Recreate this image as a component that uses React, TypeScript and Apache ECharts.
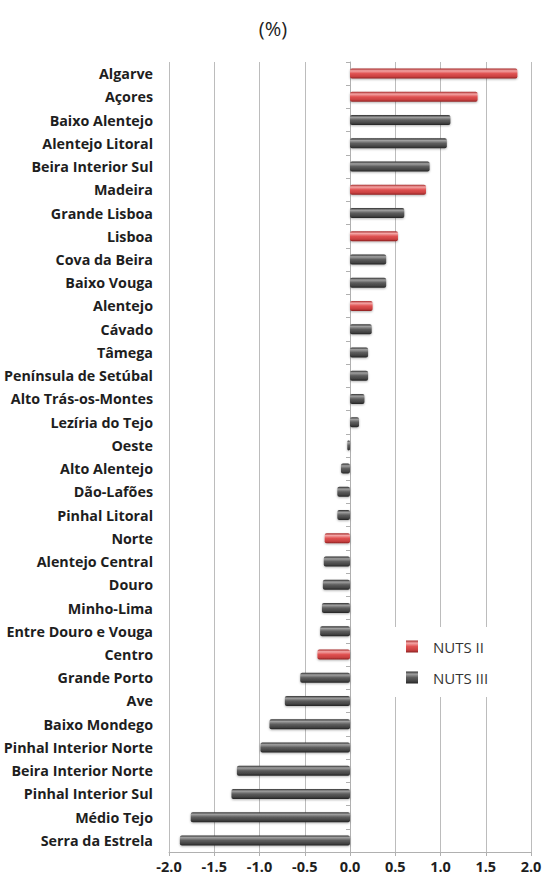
import React, { useEffect, useRef } from "react";
import * as echarts from "echarts";

const regions: string[] = [
  "Algarve", "Açores", "Baixo Alentejo", "Alentejo Litoral", "Beira Interior Sul",
  "Madeira", "Grande Lisboa", "Lisboa", "Cova da Beira", "Baixo Vouga",
  "Alentejo", "Cávado", "Tâmega", "Península de Setúbal", "Alto Trás-os-Montes",
  "Lezíria do Tejo", "Oeste", "Alto Alentejo", "Dão-Lafões", "Pinhal Litoral",
  "Norte", "Alentejo Central", "Douro", "Minho-Lima", "Entre Douro e Vouga",
  "Centro", "Grande Porto", "Ave", "Baixo Mondego", "Pinhal Interior Norte",
  "Beira Interior Norte", "Pinhal Interior Sul", "Médio Tejo", "Serra da Estrela",
];

const values: number[] = [
  1.85, 1.41, 1.11, 1.07, 0.88,
  0.84, 0.60, 0.53, 0.40, 0.40,
  0.25, 0.24, 0.20, 0.20, 0.16,
  0.10, -0.03, -0.10, -0.14, -0.14,
  -0.28, -0.29, -0.30, -0.31, -0.33,
  -0.36, -0.55, -0.72, -0.89, -0.99,
  -1.25, -1.31, -1.76, -1.88,
];

// NUTS level of each region (2 = NUTS II, 3 = NUTS III)
const levels: number[] = [
  2, 2, 3, 3, 3,
  2, 3, 2, 3, 3,
  2, 3, 3, 3, 3,
  3, 3, 3, 3, 3,
  2, 3, 3, 3, 3,
  2, 3, 3, 3, 3,
  3, 3, 3, 3,
];

const seriesNames: string[] = ["NUTS II", "NUTS III"];
const xTicks = { min: -2, max: 2, interval: 0.5 };

const redGrad = new echarts.graphic.LinearGradient(0, 0, 0, 1, [
  { offset: 0, color: "#a82a2a" },
  { offset: 0.22, color: "#f3a5a5" },
  { offset: 0.5, color: "#e05252" },
  { offset: 0.8, color: "#c84040" },
  { offset: 1, color: "#8a1f1f" },
]);
const grayGrad = new echarts.graphic.LinearGradient(0, 0, 0, 1, [
  { offset: 0, color: "#2e2e2e" },
  { offset: 0.22, color: "#a0a0a0" },
  { offset: 0.5, color: "#5e5e5e" },
  { offset: 0.8, color: "#444444" },
  { offset: 1, color: "#222222" },
]);

export default function App() {
  const ref = useRef<HTMLDivElement>(null);
  useEffect(() => {
    if (!ref.current) return;
    const chart = echarts.init(ref.current, undefined, { renderer: "svg" });
    const dataII = values.map((v, i) => (levels[i] === 2 ? v : "-"));
    const dataIII = values.map((v, i) => (levels[i] === 3 ? v : "-"));
    const barCommon = {
      type: "bar",
      barWidth: 10,
      barGap: "-100%",
    };
    chart.setOption({
      animation: false,
      backgroundColor: "#ffffff",
      title: {
        text: "(%)",
        left: "center",
        top: 13,
        textStyle: { fontFamily: "Open Sans", fontSize: 20, fontWeight: "normal", color: "#222" },
      },
      legend: {
        orient: "vertical",
        left: 385,
        top: 627,
        padding: [12, 24, 12, 21],
        backgroundColor: "#ffffff",
        itemWidth: 12,
        itemHeight: 12,
        itemGap: 16,
        icon: "rect",
        textStyle: { fontFamily: "Open Sans", fontSize: 15, color: "#333", padding: [0, 0, 0, 10] },
        data: seriesNames,
      },
      grid: { left: 169, right: 15, top: 62, bottom: 28 },
      xAxis: {
        type: "value",
        min: xTicks.min,
        max: xTicks.max,
        interval: xTicks.interval,
        axisLine: { show: true, lineStyle: { color: "#b0b0b0" } },
        axisTick: { show: true, length: 4, lineStyle: { color: "#b0b0b0" } },
        splitLine: { show: true, lineStyle: { color: "#bcbcbc", width: 1 } },
        axisLabel: {
          formatter: (v: number) => v.toFixed(1),
          fontFamily: "Open Sans",
          fontWeight: "bold",
          fontSize: 14.5,
          color: "#1e1e1e",
          margin: 7,
        },
      },
      yAxis: [
        {
          type: "category",
          data: regions,
          inverse: true,
          position: "left",
          axisLine: { show: false, onZero: false },
          axisTick: { show: false },
          axisLabel: {
            fontFamily: "Open Sans",
            fontWeight: "bold",
            fontSize: 14.3,
            color: "#1e1e1e",
            margin: 16,
            interval: 0,
          },
        },
        {
          type: "category",
          data: regions,
          inverse: true,
          position: "left",
          axisLine: { show: true, onZero: true, lineStyle: { color: "#b0b0b0" } },
          axisTick: { show: true, length: 4, lineStyle: { color: "#b0b0b0" } },
          axisLabel: { show: false },
        },
      ],
      series: [
        {
          ...barCommon,
          name: seriesNames[0],
          yAxisIndex: 0,
          data: dataII,
          itemStyle: {
            color: redGrad,
            borderRadius: 2,
            shadowBlur: 2,
            shadowColor: "rgba(0,0,0,0.3)",
            shadowOffsetY: 1,
          },
        },
        {
          ...barCommon,
          name: seriesNames[1],
          yAxisIndex: 0,
          data: dataIII,
          itemStyle: {
            color: grayGrad,
            borderRadius: 2,
            shadowBlur: 2,
            shadowColor: "rgba(0,0,0,0.3)",
            shadowOffsetY: 1,
          },
        },
      ],
    });
    return () => chart.dispose();
  }, []);
  return (
    <div
      ref={ref}
      style={{ position: "absolute", left: 0, top: 0, width: 546, height: 880 }}
    />
  );
}
